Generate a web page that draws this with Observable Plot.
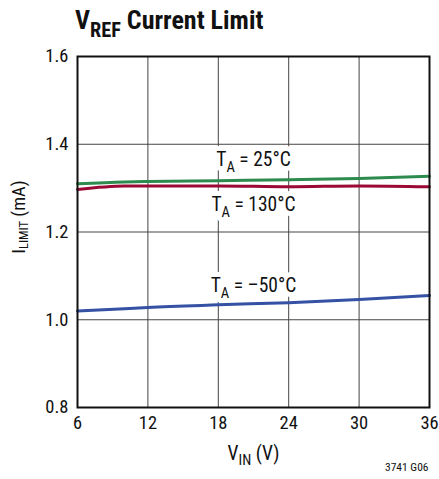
<!DOCTYPE html>
<html>
<head>
<meta charset="utf-8">
<script src="https://cdn.jsdelivr.net/npm/d3@7"></script>
<script src="https://cdn.jsdelivr.net/npm/@observablehq/plot@0.6"></script>
<style>
  body { margin: 0; background: #fff; }
  #chart { width: 439px; font-family: "Liberation Sans Narrow", "Roboto Condensed", "Liberation Sans", Arial, sans-serif; }
  #title { height: 40px; box-sizing: border-box; padding: 7px 0 0 75px; font-size: 26px; line-height: 26px; font-weight: bold; color: #111; white-space: nowrap; }
  svg { display: block; }
</style>
</head>
<body>
<div id="chart">
  <div id="title">V{REF} Current Limit</div>
</div>
<script>
// ---- data ----
const vin     = [6, 10, 12, 18, 24, 30, 36];
const ta25    = [1.310, 1.314, 1.315, 1.317, 1.319, 1.322, 1.327];
const ta130   = [1.297, 1.305, 1.305, 1.305, 1.303, 1.305, 1.303];
const taMinus50 = [1.020, 1.025, 1.028, 1.034, 1.039, 1.046, 1.055];
const seriesNames = ["T{A} = 25°C", "T{A} = 130°C", "T{A} = –50°C"];
const seriesColors = ["#2e8b4e", "#9b0a36", "#3451a3"];
const labelX = [21, 21, 21];
const labelY = [1.364, 1.261, 1.078];
const xTicks = [6, 12, 18, 24, 30, 36];
const yTicks = [0.8, 1.0, 1.2, 1.4, 1.6];
const xLabel = "V{IN} (V)";
const yLabel = "I{LIMIT} (mA)";
const caption = "3741 G06";

const rows = [];
[ta25, ta130, taMinus50].forEach((vals, s) => {
  vals.forEach((v, i) => rows.push({series: seriesNames[s], x: vin[i], y: v}));
});
const labels = seriesNames.map((t, i) => ({text: t, x: labelX[i], y: labelY[i]}));

const font = '"Liberation Sans Narrow", "Roboto Condensed", "Liberation Sans", Arial, sans-serif';

const plot = Plot.plot({
  width: 439,
  height: 439,
  marginTop: 16,
  marginBottom: 72,
  marginLeft: 77,
  marginRight: 10,
  style: {fontFamily: font, fontSize: "18.5px", color: "#111", background: "#fff"},
  x: {domain: [6, 36], ticks: xTicks, tickSize: 0, tickPadding: 8, tickFormat: d => String(d), label: null},
  y: {domain: [0.8, 1.6], ticks: yTicks, tickSize: 0, tickPadding: 9, tickFormat: d3.format(".1f"), label: null},
  color: {domain: seriesNames, range: seriesColors},
  marks: [
    Plot.ruleX(xTicks, {stroke: "#444", strokeWidth: 1}),
    Plot.ruleY(yTicks, {stroke: "#444", strokeWidth: 1}),
    Plot.text(labels, {x: "x", y: "y", text: "text", fontSize: 19.5, fill: "#111", stroke: "white", strokeWidth: 10}),
    Plot.line(rows, {x: "x", y: "y", z: "series", stroke: "series", strokeWidth: 3, curve: "monotone-x"}),
    Plot.frame({stroke: "#111", strokeWidth: 2}),
    Plot.text([xLabel], {frameAnchor: "bottom", dy: 52, fontSize: 19.5, fill: "#111"}),
    Plot.text([yLabel], {frameAnchor: "left", textAnchor: "middle", rotate: -90, dx: -58, dy: -15, fontSize: 18.5, fill: "#111"}),
    Plot.text([caption], {frameAnchor: "bottom-right", textAnchor: "end", dy: 63, dx: -1, fontSize: 11.5, fill: "#111"})
  ]
});

document.getElementById("chart").appendChild(plot);

function applySub(el, subScale, shift) {
  const s = el.textContent;
  if (!s.includes("{")) return;
  const parts = s.split(/(\{[^}]*\})/).filter(p => p.length);
  while (el.firstChild) el.removeChild(el.firstChild);
  const isSvg = el.namespaceURI === "http://www.w3.org/2000/svg";
  const fs = parseFloat(getComputedStyle(el).fontSize);
  let shifted = false;
  parts.forEach(p => {
    const sub = p.startsWith("{");
    const txt = sub ? p.slice(1, -1) : p;
    if (isSvg) {
      const t = document.createElementNS("http://www.w3.org/2000/svg", "tspan");
      t.textContent = txt;
      if (sub) { t.setAttribute("font-size", fs * subScale); t.setAttribute("dy", fs * shift); shifted = true; }
      else if (shifted) { t.setAttribute("dy", -fs * shift); shifted = false; }
      el.appendChild(t);
    } else {
      const t = document.createElement("span");
      t.textContent = txt;
      if (sub) { t.style.fontSize = (subScale * 100) + "%"; t.style.position = "relative"; t.style.top = (fs * shift) + "px"; }
      el.appendChild(t);
    }
  });
}
plot.querySelectorAll("text").forEach(el => {
  if (el.textContent === yLabel) applySub(el, 0.68, 0.12);
  else applySub(el, 0.75, 0.3);
});
applySub(document.getElementById("title"), 0.78, 0.3);
</script>
</body>
</html>
